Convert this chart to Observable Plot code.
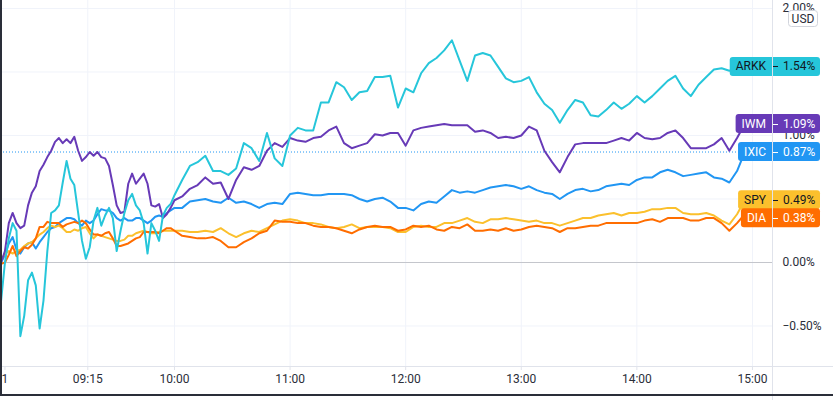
<!DOCTYPE html>
<html><head><meta charset="utf-8">
<script src="https://cdn.jsdelivr.net/npm/d3@7"></script>
<script src="https://cdn.jsdelivr.net/npm/@observablehq/plot@0.6"></script>
<style>html,body{margin:0;padding:0;background:#fff;} svg{display:block}</style>
</head><body><div id="chart"></div>
<script>
// time grid in minutes after midnight: 2-minute bars until 10:00, then 4-minute bars
const times = d3.range(510, 600, 2).concat(d3.range(600, 900, 4));

const seriesNames = ["IXIC", "SPY", "DIA", "IWM", "ARKK"];
const seriesColors = ["#2196f3", "#fbc02d", "#ff6d00", "#673ab7", "#26c6da"];
const labelTextColors = ["#ffffff", "#131722", "#ffffff", "#ffffff", "#131722"];

// % change values
const ARKK = [-0.30,0.00,0.19,0.31,0.25,-0.58,-0.42,-0.14,-0.08,-0.18,-0.52,-0.30,0.09,0.39,0.41,0.45,0.63,0.80,0.66,0.61,0.39,0.17,0.03,0.12,0.33,0.43,0.29,0.37,0.43,0.35,0.09,0.25,0.39,0.49,0.54,0.45,0.41,0.31,0.07,0.31,0.25,0.17,0.37,0.43,0.46,0.53,
  0.65,0.76,0.79,0.84,0.72,0.72,0.69,0.74,0.94,0.90,0.80,1.02,0.82,0.76,1.00,1.06,1.04,1.04,1.26,1.26,1.42,1.38,1.28,1.34,1.35,1.46,1.46,1.47,1.22,1.37,1.34,1.49,1.57,1.61,1.67,1.75,1.59,1.43,1.63,1.65,1.63,1.54,1.45,1.42,1.43,1.46,1.34,1.25,1.20,1.10,1.20,1.28,1.26,1.16,1.15,1.20,1.26,1.21,1.25,1.31,1.26,1.31,1.37,1.43,1.47,1.37,1.31,1.40,1.46,1.52,1.53,1.51,1.53,1.54];
const IWM = [0.00,0.09,0.31,0.39,0.31,0.27,0.29,0.45,0.55,0.60,0.72,0.77,0.83,0.88,0.95,0.98,0.94,0.97,0.94,0.99,0.88,0.80,0.83,0.87,0.84,0.87,0.83,0.82,0.76,0.61,0.45,0.39,0.40,0.62,0.70,0.62,0.66,0.70,0.62,0.45,0.44,0.46,0.35,0.38,0.43,0.49,
  0.52,0.58,0.61,0.67,0.62,0.63,0.50,0.65,0.75,0.73,0.76,0.88,0.94,0.91,0.98,0.96,0.95,0.98,0.99,1.04,1.07,0.94,0.90,0.92,0.94,1.01,1.00,1.02,1.02,0.92,1.04,1.06,1.07,1.08,1.09,1.08,1.08,1.08,1.03,1.04,1.02,0.98,0.99,0.98,1.00,1.07,1.04,0.88,0.79,0.71,0.83,0.93,0.94,0.94,0.94,0.94,0.96,0.98,0.96,1.02,0.98,0.97,0.98,1.02,1.04,0.98,0.90,0.90,0.90,0.93,0.98,0.88,0.98,1.09];
const IXIC = [0.00,0.06,0.15,0.20,0.10,0.07,0.12,0.15,0.16,0.11,0.16,0.20,0.24,0.27,0.28,0.31,0.33,0.35,0.35,0.34,0.31,0.29,0.33,0.31,0.33,0.38,0.42,0.41,0.41,0.39,0.35,0.33,0.35,0.33,0.33,0.35,0.35,0.33,0.31,0.33,0.36,0.37,0.36,0.39,0.41,0.43,
  0.43,0.48,0.49,0.50,0.48,0.47,0.51,0.47,0.48,0.46,0.43,0.46,0.47,0.46,0.54,0.55,0.54,0.53,0.53,0.54,0.54,0.54,0.53,0.50,0.48,0.50,0.51,0.48,0.43,0.43,0.41,0.46,0.48,0.47,0.52,0.57,0.55,0.56,0.55,0.57,0.59,0.60,0.61,0.60,0.58,0.60,0.57,0.55,0.54,0.50,0.54,0.57,0.58,0.56,0.57,0.60,0.61,0.62,0.61,0.65,0.67,0.67,0.71,0.73,0.71,0.68,0.69,0.70,0.71,0.67,0.66,0.63,0.72,0.87];
const SPY = [0.02,0.07,0.09,0.07,0.09,0.10,0.13,0.15,0.16,0.19,0.22,0.24,0.27,0.29,0.28,0.29,0.27,0.24,0.24,0.26,0.25,0.27,0.28,0.23,0.19,0.22,0.21,0.20,0.19,0.18,0.17,0.17,0.18,0.21,0.21,0.23,0.24,0.25,0.24,0.23,0.23,0.24,0.25,0.25,0.25,0.25,
  0.25,0.24,0.24,0.25,0.24,0.27,0.23,0.20,0.23,0.25,0.24,0.27,0.30,0.33,0.34,0.33,0.31,0.31,0.30,0.28,0.27,0.28,0.30,0.27,0.28,0.28,0.28,0.27,0.24,0.24,0.28,0.29,0.28,0.28,0.31,0.31,0.33,0.35,0.32,0.31,0.34,0.34,0.35,0.34,0.33,0.32,0.33,0.31,0.31,0.29,0.31,0.33,0.35,0.35,0.37,0.38,0.39,0.37,0.39,0.39,0.40,0.42,0.42,0.43,0.43,0.39,0.38,0.38,0.39,0.37,0.33,0.30,0.38,0.49];
const DIA = [-0.01,0.00,0.06,0.13,0.05,0.09,0.12,0.11,0.14,0.19,0.28,0.28,0.32,0.31,0.31,0.31,0.28,0.30,0.31,0.32,0.31,0.33,0.31,0.26,0.22,0.22,0.21,0.23,0.24,0.19,0.13,0.13,0.14,0.15,0.17,0.19,0.20,0.24,0.24,0.24,0.24,0.23,0.25,0.27,0.27,0.25,
  0.21,0.20,0.19,0.19,0.20,0.17,0.12,0.12,0.16,0.19,0.23,0.25,0.33,0.32,0.32,0.31,0.31,0.29,0.28,0.28,0.27,0.25,0.23,0.26,0.28,0.29,0.28,0.28,0.25,0.26,0.29,0.28,0.29,0.26,0.25,0.28,0.27,0.30,0.25,0.25,0.26,0.25,0.27,0.25,0.26,0.28,0.29,0.28,0.27,0.24,0.27,0.27,0.28,0.29,0.29,0.31,0.31,0.31,0.31,0.31,0.33,0.34,0.32,0.35,0.35,0.35,0.33,0.33,0.35,0.35,0.31,0.25,0.31,0.38];

const seriesValues = [IXIC, SPY, DIA, IWM, ARKK];

const xTickValues = [512, 555, 600, 660, 720, 780, 840, 900];
const xTickLabels = ["1", "09:15", "10:00", "11:00", "12:00", "13:00", "14:00", "15:00"];
const yGridValues = [-0.5, 0, 0.5, 1, 1.5, 2];
// tick labels that remain visible (0.50% and 1.50% sit under the SPY and ARKK tags)
const yLabelValues = [-0.5, 0, 1, 2];
const currencyLabel = "USD";

const xLabelMap = new Map(xTickValues.map((v, i) => [v, xTickLabels[i]]));
const fmtPct = d => (d < 0 ? "\u2212" : "") + Math.abs(d).toFixed(2) + "%";

const lineMarks = seriesNames.map((name, si) =>
  Plot.line(times.map((t, i) => ({t, v: seriesValues[si][i]})),
    {x: "t", y: "v", stroke: seriesColors[si], strokeWidth: 2, strokeLinejoin: "round", strokeLinecap: "round"}));

const mainLast = IXIC[IXIC.length - 1];

const chart = Plot.plot({
  width: 833, height: 400,
  marginLeft: 0, marginRight: 61, marginTop: 0, marginBottom: 34,
  style: {fontFamily: "Roboto, sans-serif", fontSize: "12px", background: "#fff", overflow: "visible"},
  x: {domain: [509.69, 910.4], axis: null},
  y: {domain: [-0.819, 2.063], axis: null},
  marks: [
    Plot.ruleY(yGridValues.filter(d => d !== 0), {stroke: "#f0f3fa", strokeWidth: 1}),
    Plot.ruleX(xTickValues.slice(1), {stroke: "#f0f3fa", strokeWidth: 1}),
    Plot.ruleY([0], {stroke: "#c4c6cc", strokeWidth: 1}),
    Plot.ruleY([mainLast], {stroke: "#2196f3", strokeWidth: 1, strokeDasharray: "1,2"}),
    ...lineMarks,
    Plot.axisY(yLabelValues, {anchor: "right", tickSize: 0, tickPadding: 10, textAnchor: "start", label: null,
      tickFormat: fmtPct, fill: "#2a2e39", fontSize: 12}),
    Plot.axisX(xTickValues, {anchor: "bottom", tickSize: 4, tickPadding: 4, stroke: "#e0e3eb", label: null,
      tickFormat: d => xLabelMap.get(d), fill: "#2a2e39", fontSize: 12})
  ]
});
document.getElementById("chart").appendChild(chart);

const svg = d3.select(chart);
const xs = chart.scale("x"), ys = chart.scale("y");
const right = xs.range[1];
const bottom = ys.range[0];
const W = 833, H = 400;

// price labels
const labels = seriesNames.map((name, i) => {
  const v = seriesValues[i][seriesValues[i].length - 1];
  return {name, v, y: ys.apply(v), color: seriesColors[i], tc: labelTextColors[i]};
}).sort((a, b) => a.y - b.y);
const bh = 18;
let prevBottom = -Infinity;
for (const l of labels) {
  let c = l.y;
  if (c - bh / 2 < prevBottom) c = prevBottom + bh / 2;
  l.cy = c;
  prevBottom = c + bh / 2;
}
const lg = svg.append("g").attr("font-family", "Roboto, sans-serif").attr("font-size", 12);
for (const l of labels) {
  const g = lg.append("g");
  const rect = g.append("rect");
  const nameT = g.append("text").attr("x", right - 6).attr("y", l.cy).attr("text-anchor", "end")
    .attr("dominant-baseline", "central").attr("fill", l.tc).text(l.name);
  const tw = nameT.node().getComputedTextLength();
  const left = right - 1 - tw - 11;
  rect.attr("x", left).attr("y", l.cy - bh / 2 - 0.5).attr("width", right + 48 - left).attr("height", bh + 1)
    .attr("rx", 3).attr("fill", l.color);
  g.append("line").attr("x1", right + 1).attr("x2", right + 6).attr("y1", Math.round(l.cy) + 0.5).attr("y2", Math.round(l.cy) + 0.5)
    .attr("stroke", l.tc).attr("stroke-width", 1);
  g.append("text").attr("x", right + 11).attr("y", l.cy).attr("text-anchor", "start").attr("dominant-baseline", "central")
    .attr("fill", l.tc).text(l.v.toFixed(2) + "%");
}

// currency badge
const ub = svg.append("g");
ub.append("rect").attr("x", right + 16.5).attr("y", 10.5).attr("width", 29).attr("height", 16).attr("rx", 3)
  .attr("fill", "#fff").attr("stroke", "#d1d4dc");
ub.append("text").attr("x", right + 31).attr("y", 18.5).attr("text-anchor", "middle").attr("dominant-baseline", "central")
  .attr("font-family", "Roboto, sans-serif").attr("font-size", 12).attr("fill", "#2a2e39").text(currencyLabel);

// pane separators and frame
svg.append("line").attr("x1", 0).attr("x2", W).attr("y1", bottom + 0.5).attr("y2", bottom + 0.5).attr("stroke", "#e0e3eb");
svg.append("line").attr("x1", right + 0.5).attr("x2", right + 0.5).attr("y1", 0).attr("y2", H).attr("stroke", "#e0e3eb");
svg.append("line").attr("x1", 1).attr("x2", 1).attr("y1", 0).attr("y2", H - 4).attr("stroke", "#2a2e39").attr("stroke-width", 2);
svg.append("line").attr("x1", 0).attr("x2", W).attr("y1", H - 5).attr("y2", H - 5).attr("stroke", "#2a2e39").attr("stroke-width", 2);
</script>
</body></html>
